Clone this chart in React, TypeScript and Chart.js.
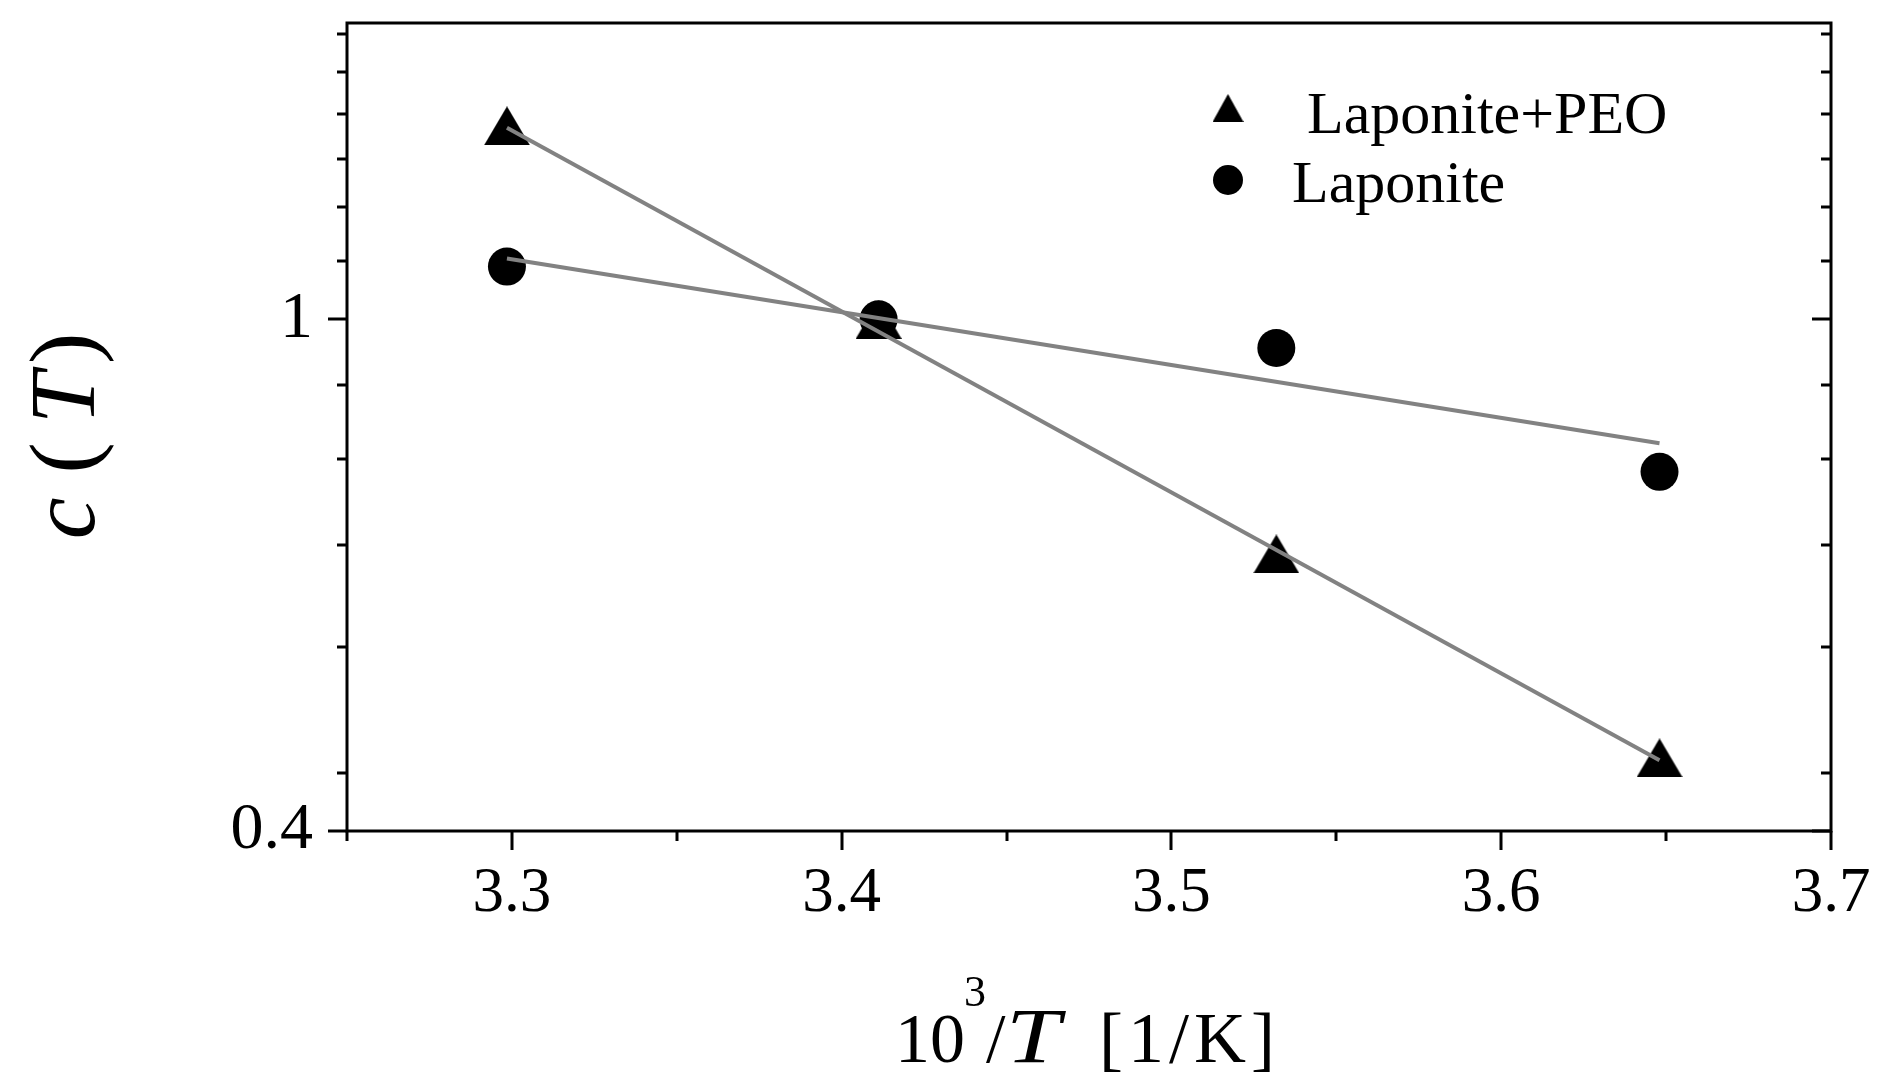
import React, { useEffect, useRef } from 'react';
import { Chart, registerables } from 'chart.js';

Chart.register(...registerables);

// ---- data ----
const seriesNames = ['Laponite+PEO', 'Laponite'];
const invT = [3.2985, 3.4112, 3.5318, 3.648];
const peoValues = [1.414, 1.0, 0.657, 0.456];
const lapValues = [1.099, 1.0, 0.95, 0.761];
const peoFitX = [3.2985, 3.648];
const peoFitY = [1.409, 0.454];
const lapFitX = [3.2985, 3.648];
const lapFitY = [1.115, 0.801];

const xMajorTicks = [3.3, 3.4, 3.5, 3.6, 3.7];
const xMinorTicks = [3.25, 3.35, 3.45, 3.55, 3.65];
const yMajorTicks = [0.4, 1];
const yMinorTicks = [0.444, 0.556, 0.667, 0.778, 0.889, 1.111, 1.222, 1.333, 1.444, 1.556, 1.667];

const xMin = 3.25;
const xMax = 3.7;
const yMin = 0.4;
const yMax = 1.7;

const SERIF = "'Liberation Serif', 'Times New Roman', serif";
const W = 1883;
const H = 1078;

function triangleImage(w: number, h: number): HTMLCanvasElement {
  const c = document.createElement('canvas');
  c.width = w;
  c.height = h;
  const g = c.getContext('2d')!;
  g.fillStyle = '#000';
  g.beginPath();
  g.moveTo(w / 2, 0);
  g.lineTo(w, h);
  g.lineTo(0, h);
  g.closePath();
  g.fill();
  return c;
}

export default function App() {
  const ref = useRef<HTMLCanvasElement | null>(null);

  useEffect(() => {
    document.body.style.margin = '0';
    const canvas = ref.current!;
    const triData = triangleImage(46, 39);
    const triLegend = triangleImage(31, 28);

    const decor = {
      id: 'decor',
      afterDraw(chart: any) {
        const ctx = chart.ctx as CanvasRenderingContext2D;
        const { left, right, top, bottom } = chart.chartArea;
        const xs = chart.scales.x;
        const ys = chart.scales.y;
        ctx.save();
        ctx.strokeStyle = '#000';
        ctx.lineWidth = 3;
        ctx.lineCap = 'butt';
        // frame
        ctx.strokeRect(left, top, right - left, bottom - top);
        // bottom ticks (outward)
        ctx.beginPath();
        for (const v of xMajorTicks) {
          const p = Math.round(xs.getPixelForValue(v));
          ctx.moveTo(p, bottom);
          ctx.lineTo(p, bottom + 19);
        }
        for (const v of xMinorTicks) {
          const p = Math.round(xs.getPixelForValue(v));
          ctx.moveTo(p, bottom);
          ctx.lineTo(p, bottom + 10);
        }
        // left ticks (outward) and right ticks (inward)
        for (const v of yMajorTicks) {
          const p = Math.round(ys.getPixelForValue(v));
          ctx.moveTo(left, p);
          ctx.lineTo(left - 19, p);
          ctx.moveTo(right, p);
          ctx.lineTo(right - 19, p);
        }
        for (const v of yMinorTicks) {
          const p = Math.round(ys.getPixelForValue(v));
          ctx.moveTo(left, p);
          ctx.lineTo(left - 10, p);
          ctx.moveTo(right, p);
          ctx.lineTo(right - 10, p);
        }
        ctx.stroke();

        // legend
        ctx.fillStyle = '#000';
        ctx.drawImage(triLegend, 1228 - 15.5, 108 - 14);
        ctx.beginPath();
        ctx.arc(1228, 180, 15, 0, Math.PI * 2);
        ctx.fill();
        ctx.font = `60px ${SERIF}`;
        ctx.textBaseline = 'alphabetic';
        ctx.textAlign = 'left';
        ctx.fillText(seriesNames[0], 1307, 133);
        ctx.fillText(seriesNames[1], 1292, 202);

        // x axis title: 10^3/T [1/K]
        const base = 1062;
        ctx.font = `70px ${SERIF}`;
        ctx.fillText('10', 895, base);
        ctx.font = `44px ${SERIF}`;
        ctx.fillText('3', 964, 1006);
        ctx.font = `70px ${SERIF}`;
        ctx.fillText('/', 986, base);
        ctx.save();
        ctx.translate(1006, base);
        ctx.scale(1.25, 1);
        ctx.font = `italic 78px ${SERIF}`;
        ctx.fillText('T', 0, 0);
        ctx.restore();
        ctx.font = `72px ${SERIF}`;
        (ctx as any).letterSpacing = '5px';
        ctx.fillText('[1/K]', 1099, base);
        (ctx as any).letterSpacing = '0px';

        // y axis title: c (T)
        ctx.save();
        ctx.translate(94, 436);
        ctx.rotate(-Math.PI / 2);
        const yfs = 94;
        const yp: [string, string, number][] = [
          ['c', `italic ${yfs}px ${SERIF}`, 24],
          ['(', `${yfs}px ${SERIF}`, 18],
          ['T', `italic ${yfs}px ${SERIF}`, 8],
          [')', `${yfs}px ${SERIF}`, 0],
        ];
        let tw = 0;
        for (const [t, f, g] of yp) {
          ctx.font = f;
          tw += ctx.measureText(t).width + g;
        }
        let yx = -tw / 2;
        for (const [t, f, g] of yp) {
          ctx.font = f;
          ctx.fillText(t, yx, 0);
          yx += ctx.measureText(t).width + g;
        }
        ctx.restore();
        ctx.restore();
      },
    };

    const chart = new Chart(canvas, {
      type: 'scatter',
      data: {
        datasets: [
          {
            label: seriesNames[0] + ' fit',
            data: peoFitX.map((x, i) => ({ x, y: peoFitY[i] })),
            showLine: true,
            borderColor: '#828282',
            borderWidth: 4,
            pointRadius: 0,
            order: 0,
          },
          {
            label: seriesNames[1] + ' fit',
            data: lapFitX.map((x, i) => ({ x, y: lapFitY[i] })),
            showLine: true,
            borderColor: '#828282',
            borderWidth: 4,
            pointRadius: 0,
            order: 0,
          },
          {
            label: seriesNames[0],
            data: invT.map((x, i) => ({ x, y: peoValues[i] })),
            pointStyle: triData as any,
            pointRadius: 23,
            backgroundColor: '#000',
            borderWidth: 0,
            order: 1,
          },
          {
            label: seriesNames[1],
            data: invT.map((x, i) => ({ x, y: lapValues[i] })),
            pointStyle: 'circle',
            pointRadius: 19,
            backgroundColor: '#000',
            borderColor: '#000',
            borderWidth: 0,
            order: 1,
          },
        ],
      },
      options: {
        animation: false,
        responsive: false,
        devicePixelRatio: 1,
        layout: { padding: { top: 15, right: 52, left: 0, bottom: 0 } },
        plugins: {
          legend: { display: false },
          tooltip: { enabled: false },
          title: { display: false },
        },
        scales: {
          x: {
            type: 'linear',
            min: xMin,
            max: xMax,
            afterBuildTicks: (s: any) => {
              s.ticks = [...xMajorTicks, ...xMinorTicks]
                .sort((a, b) => a - b)
                .map((v) => ({ value: v }));
            },
            afterFit: (s: any) => {
              s.height = H - 831;
              s.paddingLeft = 0;
              s.paddingRight = 0;
              s.paddingTop = 0;
              s.paddingBottom = 0;
            },
            ticks: {
              autoSkip: false,
              maxRotation: 0,
              minRotation: 0,
              padding: 26,
              color: '#000',
              font: { family: SERIF, size: 63 },
              callback: (v: any) => (xMajorTicks.includes(v) ? Number(v).toFixed(1) : null),
            },
            grid: { display: false, drawTicks: false },
            border: { display: false },
          },
          y: {
            type: 'logarithmic',
            min: yMin,
            max: yMax,
            afterBuildTicks: (s: any) => {
              s.ticks = [...yMajorTicks, ...yMinorTicks]
                .sort((a, b) => a - b)
                .map((v) => ({ value: v, major: yMajorTicks.includes(v) }));
            },
            afterFit: (s: any) => {
              s.width = 347;
              s.paddingLeft = 0;
              s.paddingRight = 0;
              s.paddingTop = 0;
              s.paddingBottom = 0;
            },
            ticks: {
              autoSkip: false,
              padding: 34,
              color: '#000',
              font: { family: SERIF, size: 66 },
              callback: (v: any) => (yMajorTicks.includes(v) ? String(v) : null),
            },
            grid: { display: false, drawTicks: false },
            border: { display: false },
          },
        },
      },
      plugins: [decor],
    });

    return () => {
      chart.destroy();
    };
  }, []);

  return (
    <div style={{ position: 'fixed', left: 0, top: 0, width: W, height: H, background: '#fff' }}>
      <canvas ref={ref} width={W} height={H} style={{ width: W, height: H, display: 'block' }} />
    </div>
  );
}
